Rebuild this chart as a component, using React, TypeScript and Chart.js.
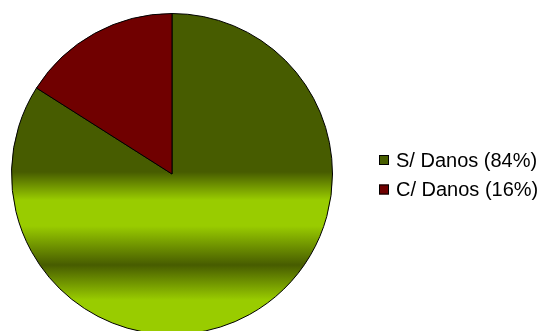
import React, { useEffect, useRef } from "react";
import { Chart, registerables } from "chart.js";

Chart.register(...registerables);

const categories = ["S/ Danos (84%)", "C/ Danos (16%)"];
const values = [84, 16];
const legendSwatches = ["#485e00", "#700000"];

const DARK = "#475c00";
const BRIGHT = "#99cc00";

export default function App() {
  const ref = useRef<HTMLCanvasElement | null>(null);

  useEffect(() => {
    document.body.style.margin = "0";
    const canvas = ref.current!;
    const legendPlugin = {
      id: "customLegend",
      afterDraw(chart: any) {
        const ctx = chart.ctx;
        ctx.save();
        ctx.font = "20px 'Liberation Sans', Arial, sans-serif";
        ctx.textBaseline = "middle";
        categories.forEach((label, i) => {
          const y = 160 + i * 29.5;
          ctx.fillStyle = legendSwatches[i];
          ctx.fillRect(379, y - 5, 10, 10);
          ctx.strokeStyle = "#000";
          ctx.lineWidth = 1;
          ctx.strokeRect(379.5, y - 4.5, 9, 9);
          ctx.fillStyle = "#000";
          ctx.fillText(label, 396, y + 1);
        });
        ctx.restore();
      },
    };

    const chart = new Chart(canvas, {
      type: "pie",
      data: {
        labels: categories,
        datasets: [
          {
            data: values,
            backgroundColor: (c: any) => {
              if (c.dataIndex === 1) return "#700000";
              const g = c.chart.ctx.createLinearGradient(0, 0, 0, 331);
              g.addColorStop(0, DARK);
              g.addColorStop(172 / 331, DARK);
              g.addColorStop(200 / 331, BRIGHT);
              g.addColorStop(226 / 331, BRIGHT);
              g.addColorStop(265 / 331, DARK);
              g.addColorStop(300 / 331, BRIGHT);
              g.addColorStop(1, BRIGHT);
              return g;
            },
            borderColor: "#000",
            borderWidth: 1,
          },
        ],
      },
      options: {
        responsive: false,
        animation: false,
        layout: { padding: { left: 11, top: 13, right: 206, bottom: 5 } },
        plugins: { legend: { display: false }, tooltip: { enabled: false } },
      },
      plugins: [legendPlugin],
    });
    return () => chart.destroy();
  }, []);

  return (
    <div style={{ position: "absolute", left: 0, top: 0, width: 539, height: 331, overflow: "hidden", background: "#fff" }}>
      <canvas ref={ref} width={539} height={340} style={{ width: 539, height: 340, display: "block" }} />
    </div>
  );
}
